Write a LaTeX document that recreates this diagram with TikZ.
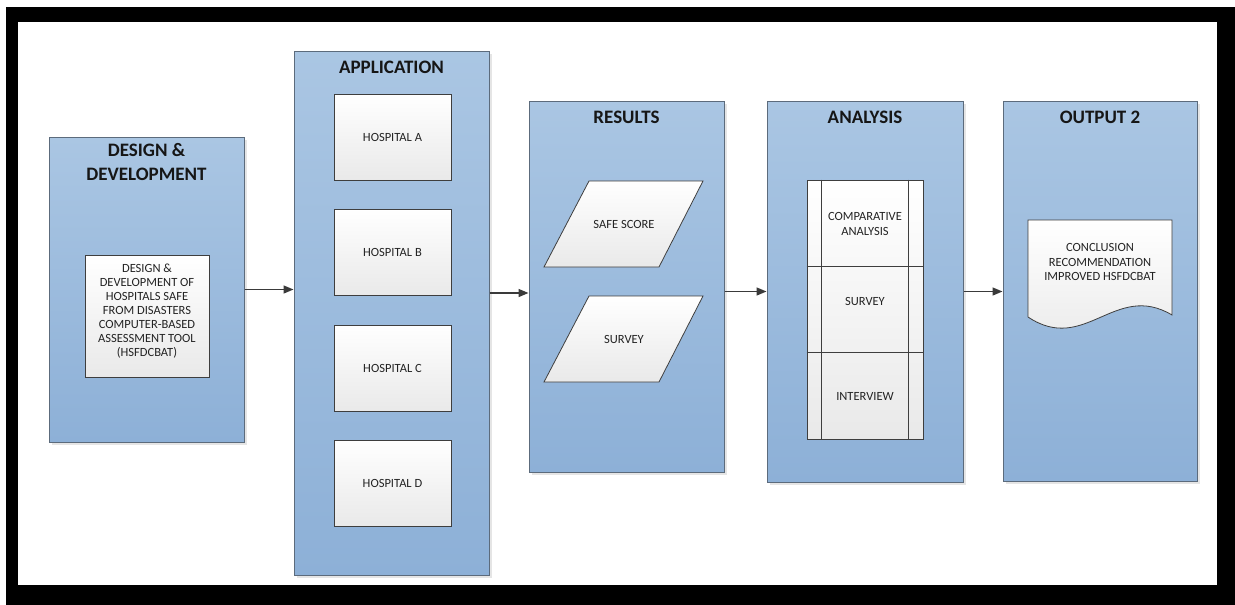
\documentclass[tikz,border=0pt]{standalone}
\usepackage{fontspec}
\setmainfont{Carlito}
\usetikzlibrary{arrows.meta,shadows,calc}
\definecolor{panelTop}{HTML}{AAC6E3}
\definecolor{panelBot}{HTML}{8DB0D7}
\definecolor{panelLine}{HTML}{5C6B7C}
\definecolor{cardLine}{HTML}{3E3E3E}
\definecolor{cardBot}{HTML}{E9E9E9}
\definecolor{ink}{HTML}{161616}
\definecolor{smallink}{HTML}{232323}
\definecolor{arrowink}{HTML}{3A3A3A}

\begin{document}
\begin{tikzpicture}[x=1pt,y=-1pt,
  panel/.style={draw=panelLine, line width=1pt, top color=panelTop, bottom color=panelBot,
    inner sep=0pt, drop shadow={shadow xshift=2.5pt, shadow yshift=-2.5pt, fill=black!10, opacity=1}},
  card/.style={draw=cardLine, line width=0.8pt, top color=white, bottom color=cardBot,
    inner sep=0pt, text=smallink, font=\fontsize{12.5}{14}\selectfont, align=center},
  title/.style={text=ink, font=\fontsize{19}{24}\selectfont\bfseries, align=center, inner sep=0pt},
  label/.style={text=smallink, font=\fontsize{12.5}{14.5}\selectfont, align=center, inner sep=0pt},
  flow/.style={draw=arrowink, line width=1.4pt, -{Triangle[length=10pt,width=8pt]}}
]
\useasboundingbox (0,0) rectangle (1235,605);
% frame
\fill[white] (0,0) rectangle (1235,605);
\fill[black] (6,7) rectangle (1235,605);
\fill[white] (18,22) rectangle (1217,585);

% design & development
\node[panel, minimum width=195pt, minimum height=305pt] (dd) at (146.5,289.5) {};
\node[title] (ddt) at (146.5,162) {DESIGN \&\\DEVELOPMENT};
\node[card, minimum width=124pt, minimum height=122pt] (tool) at (147,316) {};
\node[label, font=\fontsize{12.5}{14}\selectfont] (tooltext) at (147,311.5)
  {DESIGN \&\\DEVELOPMENT OF\\HOSPITALS SAFE\\FROM DISASTERS\\COMPUTER-BASED\\ASSESSMENT TOOL\\(HSFDCBAT)};

% application
\node[panel, minimum width=195pt, minimum height=524pt] (app) at (391.5,313) {};
\node[title] (appt) at (391.5,67) {APPLICATION};
\node[card, minimum width=117pt, minimum height=86pt] (ha) at (392.5,137) {HOSPITAL A};
\node[card, minimum width=117pt, minimum height=86pt] (hb) at (392.5,252) {HOSPITAL B};
\node[card, minimum width=117pt, minimum height=86pt] (hc) at (392.5,368) {HOSPITAL C};
\node[card, minimum width=117pt, minimum height=86pt] (hd) at (392.5,483) {HOSPITAL D};

% results
\node[panel, minimum width=195pt, minimum height=371pt] (res) at (626.5,286.5) {};
\node[title] (rest) at (626.5,117) {RESULTS};
\path[card] (589,181) -- (703,181) -- (659,267) -- (544,267) -- cycle;
\node[label] (score) at (624,224) {SAFE SCORE};
\path[card] (589,296) -- (703,296) -- (659,382) -- (544,382) -- cycle;
\node[label] (rsurvey) at (624,339) {SURVEY};

% analysis
\node[panel, minimum width=196pt, minimum height=381pt] (ana) at (865,291.5) {};
\node[title] (anat) at (865,117) {ANALYSIS};
\node[card, minimum width=116pt, minimum height=259pt] (proc) at (865,309.5) {};
\draw[cardLine, line width=0.8pt]
  ($(proc.north west)+(15,0)$) -- ($(proc.south west)+(15,0)$)
  ($(proc.north east)+(-15,0)$) -- ($(proc.south east)+(-15,0)$)
  ($(proc.north west)+(0,87)$) -- ($(proc.north east)+(0,87)$)
  ($(proc.north west)+(0,173)$) -- ($(proc.north east)+(0,173)$);
\node[label] (comp) at (865,224) {COMPARATIVE\\ANALYSIS};
\node[label] (asurvey) at (865,301) {SURVEY};
\node[label] (interview) at (865,396) {INTERVIEW};

% output
\node[panel, minimum width=194pt, minimum height=380pt] (out) at (1100,291) {};
\node[title] (outt) at (1100,117) {OUTPUT 2};
\path[card] (1028,220) -- (1172,220) -- (1172,315)
  .. controls (1115,281) and (1085,355) .. (1028,317) -- cycle;
\node[label] (concl) at (1100,262) {CONCLUSION\\RECOMMENDATION\\IMPROVED HSFDCBAT};

% connectors
\draw[flow] (dd.east) -- (app.west |- dd.east);
\draw[flow] (app.east |- 0,293) -- (res.west |- 0,293);
\draw[flow] (res.east |- ana.west) -- (ana.west);
\draw[flow] (ana.east) -- (out.west |- ana.east);
\end{tikzpicture}
\end{document}
